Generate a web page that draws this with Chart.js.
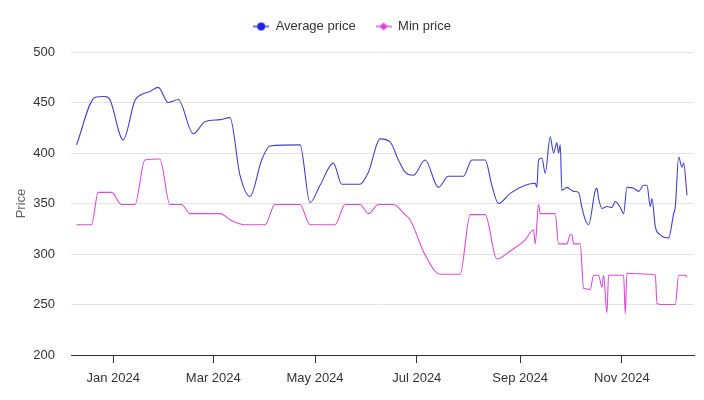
<!DOCTYPE html>
<html>
<head>
<meta charset="utf-8">
<script src="https://cdn.jsdelivr.net/npm/chart.js@4.4.1/dist/chart.umd.min.js"></script>
<style>
  body { margin: 0; background: #fff; }
  #caixa { width: 704px; height: 400px; }
</style>
</head>
<body>
<div id="caixa"><canvas id="chart-preco"></canvas></div>
<script>

// DADOS //

const avgDates = [
  "2023-12-10", "2023-12-21", "2023-12-27", "2023-12-30", "2024-01-07", "2024-01-14",
  "2024-01-18", "2024-01-23", "2024-01-28", "2024-02-03", "2024-02-09", "2024-02-18",
  "2024-02-25", "2024-03-05", "2024-03-11", "2024-03-17", "2024-03-23", "2024-03-30",
  "2024-04-04", "2024-04-22", "2024-04-28", "2024-05-04", "2024-05-12", "2024-05-17",
  "2024-05-28", "2024-06-02", "2024-06-09", "2024-06-15", "2024-06-20", "2024-06-24",
  "2024-06-29", "2024-07-06", "2024-07-14", "2024-07-20", "2024-07-29", "2024-08-03",
  "2024-08-11", "2024-08-15", "2024-08-19", "2024-08-26", "2024-09-04", "2024-09-10",
  "2024-09-11", "2024-09-12", "2024-09-14", "2024-09-16", "2024-09-19", "2024-09-21",
  "2024-09-23", "2024-09-24", "2024-09-25", "2024-09-26", "2024-09-28", "2024-09-29",
  "2024-10-03", "2024-10-06", "2024-10-08", "2024-10-10", "2024-10-12", "2024-10-16",
  "2024-10-17", "2024-10-18", "2024-10-20", "2024-10-23", "2024-10-26", "2024-10-28",
  "2024-10-31", "2024-11-02", "2024-11-04", "2024-11-08", "2024-11-11", "2024-11-14",
  "2024-11-16", "2024-11-18", "2024-11-19", "2024-11-21", "2024-11-24", "2024-11-29",
  "2024-12-02", "2024-12-03", "2024-12-05", "2024-12-07", "2024-12-08", "2024-12-10"
]
const avgPrices = [
  408, 455, 456, 453, 413, 452,
  458, 461, 465, 450, 453, 419,
  431, 433, 435, 378, 357, 393,
  407, 408, 351, 368, 390, 369,
  369, 381, 414, 411, 393, 381,
  378, 393, 366, 377, 377, 393,
  393, 368, 350, 360, 368, 370,
  366, 393, 395, 380, 416, 400,
  410, 400, 408, 363, 365, 366,
  362, 361, 346, 334, 329, 363,
  365, 355, 345, 347, 346, 352,
  346, 340, 366, 365, 362, 368,
  368, 347, 355, 327, 319, 316,
  340, 347, 396, 386, 390, 358
]

const minDates = [
  "2023-12-10", "2023-12-19", "2023-12-23", "2023-12-31", "2024-01-06", "2024-01-14",
  "2024-01-20", "2024-01-29", "2024-02-04", "2024-02-11", "2024-02-16", "2024-03-05",
  "2024-03-12", "2024-03-20", "2024-04-01", "2024-04-07", "2024-04-22", "2024-04-28",
  "2024-05-13", "2024-05-19", "2024-05-28", "2024-06-02", "2024-06-08", "2024-06-17",
  "2024-06-24", "2024-06-27", "2024-07-06", "2024-07-15", "2024-07-27", "2024-08-02",
  "2024-08-11", "2024-08-18", "2024-08-26", "2024-09-04", "2024-09-09", "2024-09-10",
  "2024-09-12", "2024-09-13", "2024-09-22", "2024-09-24", "2024-09-29", "2024-10-01",
  "2024-10-02", "2024-10-03", "2024-10-07", "2024-10-09", "2024-10-13", "2024-10-15",
  "2024-10-18", "2024-10-20", "2024-10-21", "2024-10-23", "2024-10-24", "2024-11-02",
  "2024-11-03", "2024-11-04", "2024-11-18", "2024-11-21", "2024-11-22", "2024-11-25",
  "2024-12-03", "2024-12-05", "2024-12-09", "2024-12-10"
]
const minPrices = [
  329, 329, 361, 361, 349, 349,
  393, 394, 349, 349, 340, 340,
  333, 329, 329, 349, 349, 329,
  329, 349, 349, 340, 349, 349,
  339, 334, 299, 280, 280, 339,
  339, 295, 303, 314, 324, 310,
  349, 340, 340, 310, 310, 319,
  319, 310, 310, 266, 265, 279,
  279, 267, 279, 242, 279, 279,
  241, 281, 280, 279, 251, 250,
  250, 279, 279, 277
]

const tickDates = ["2024-01-01", "2024-03-01", "2024-05-01", "2024-07-01", "2024-09-01", "2024-11-01"]
const tickLabels = ["Jan 2024", "Mar 2024", "May 2024", "Jul 2024", "Sep 2024", "Nov 2024"]


// dias desde 1 jan 2024
function dia(s) {
  return (Date.parse(s) - Date.parse("2024-01-01")) / 86400000
}

function pontos(datas, valores) {
  return datas.map((d, i) => ({ x: dia(d), y: valores[i] }))
}

// icone da legenda: linha com marcador
function icone(cor, forma) {
  const c = document.createElement("canvas")
  c.width = 16
  c.height = 10
  const g = c.getContext("2d")
  g.strokeStyle = cor
  g.fillStyle = cor
  g.lineWidth = 1.3
  g.beginPath()
  g.moveTo(0, 5)
  g.lineTo(16, 5)
  g.stroke()
  g.beginPath()
  if (forma == "circulo") {
    g.arc(8, 5, 4, 0, Math.PI * 2)
  } else {
    g.moveTo(8, 1)
    g.lineTo(12, 5)
    g.lineTo(8, 9)
    g.lineTo(4, 5)
    g.closePath()
  }
  g.fill()
  return c
}

// espaco extra embaixo da legenda
const legendaAltura = {
  id: "legendaAltura",
  beforeInit(chart) {
    const fitOriginal = chart.legend.fit
    chart.legend.fit = function () {
      fitOriginal.bind(chart.legend)()
      this.height += 9
    }
  }
}

const corMedia = "#4040d0"
const corMin = "#de48da"

const ctp = document.getElementById("chart-preco")

new Chart(ctp, {
  type: "line",
  plugins: [legendaAltura],
  data: {
    datasets: [
      {
        label: "Average price",
        data: pontos(avgDates, avgPrices),
        borderColor: corMedia,
        backgroundColor: corMedia,
        borderWidth: 1.1,
        pointRadius: 0,
        cubicInterpolationMode: "monotone",
        fill: false
      },
      {
        label: "Min price",
        data: pontos(minDates, minPrices),
        borderColor: corMin,
        backgroundColor: corMin,
        borderWidth: 1.1,
        pointRadius: 0,
        cubicInterpolationMode: "monotone",
        fill: false
      }
    ]
  },
  options: {
    animation: false,
    responsive: true,
    maintainAspectRatio: false,
    layout: {
      padding: { left: 10, right: 10, top: 0, bottom: 0 }
    },
    plugins: {
      tooltip: { enabled: false },
      legend: {
        position: "top",
        labels: {
          usePointStyle: true,
          pointStyleWidth: 16,
          boxHeight: 10,
          padding: 20,
          color: "#333",
          font: { family: "Liberation Sans, Arial, sans-serif", size: 13 },
          generateLabels: function (chart) {
            return [
              { text: "Average price", pointStyle: icone("#2121e6", "circulo"), fillStyle: corMedia, strokeStyle: corMedia, lineWidth: 0, datasetIndex: 0, fontColor: "#333" },
              { text: "Min price", pointStyle: icone("#e03ce0", "diamante"), fillStyle: corMin, strokeStyle: corMin, lineWidth: 0, datasetIndex: 1, fontColor: "#333" }
            ]
          }
        }
      }
    },
    scales: {
      x: {
        type: "linear",
        min: -25.3,
        max: 348.2,
        afterBuildTicks: function (s) {
          s.ticks = tickDates.map(d => ({ value: dia(d) }))
        },
        afterFit: function (s) {
          s.height = 45
        },
        ticks: {
          autoSkip: false,
          maxRotation: 0,
          padding: 8,
          color: "#333",
          font: { family: "Liberation Sans, Arial, sans-serif", size: 13 },
          callback: function (v) {
            const i = tickDates.findIndex(d => dia(d) == v)
            return tickLabels[i]
          }
        },
        grid: {
          display: true,
          drawOnChartArea: false,
          drawTicks: true,
          tickLength: 8,
          color: "#333"
        },
        border: { display: true, color: "#333", width: 1 }
      },
      y: {
        min: 200,
        max: 500,
        afterFit: function (s) {
          s.width = 61
        },
        ticks: {
          stepSize: 50,
          padding: 16,
          color: "#333",
          font: { family: "Liberation Sans, Arial, sans-serif", size: 13 }
        },
        grid: {
          color: "#e4e4e4",
          drawTicks: false
        },
        border: { display: false },
        title: {
          display: true,
          text: "Price",
          color: "#666",
          font: { family: "Liberation Sans, Arial, sans-serif", size: 13 }
        }
      }
    }
  }
})

</script>
</body>
</html>
